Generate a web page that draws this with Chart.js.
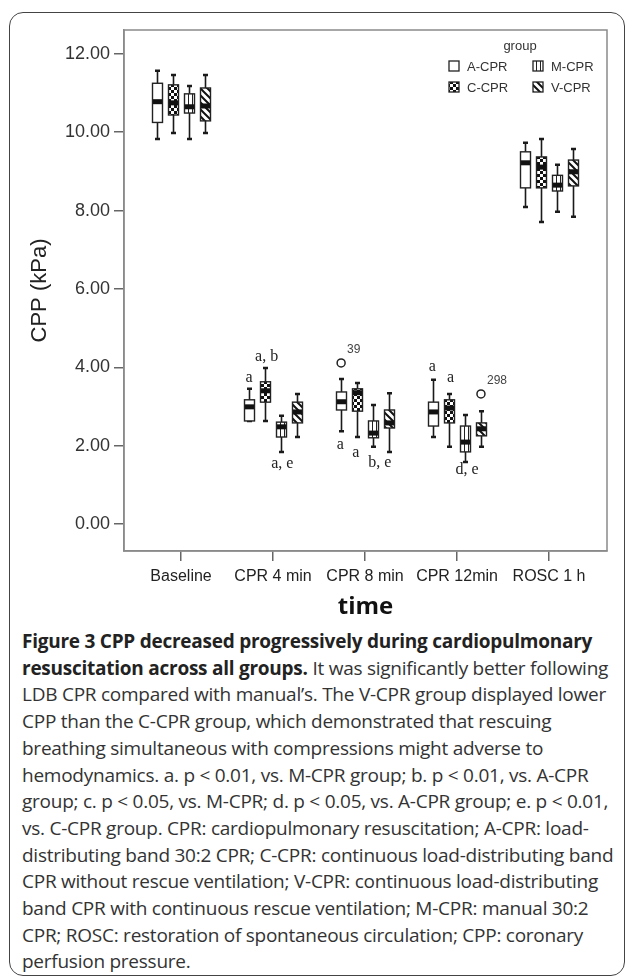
<!DOCTYPE html>
<html>
<head>
<meta charset="utf-8">
<script src="https://cdn.jsdelivr.net/npm/chart.js@4.4.1/dist/chart.umd.min.js"></script>
<style>
  body { margin: 0; background: #fff; }
  #frame { position: absolute; left: 9px; top: 12px; width: 614px; height: 962px;
           border: 1.5px solid #444; border-radius: 14px; }
  #chart { position: absolute; left: 0; top: 0; }
  #caption { position: absolute; left: 22px; top: 628px; font-family: "Open Sans", sans-serif;
             font-size: 19px; line-height: 26.7px; color: #333; letter-spacing: -0.25px; }
  #caption div { white-space: nowrap; }
  #caption b { color: #222; }
</style>
</head>
<body>
<div id="frame"></div>
<canvas id="chart" width="629" height="625"></canvas>
<div id="caption">
  <div><b>Figure 3 CPP decreased progressively during cardiopulmonary</b></div>
  <div><b>resuscitation across all groups.</b> It was significantly better following</div>
  <div>LDB CPR compared with manual’s. The V-CPR group displayed lower</div>
  <div>CPP than the C-CPR group, which demonstrated that rescuing</div>
  <div>breathing simultaneous with compressions might adverse to</div>
  <div>hemodynamics. a. p &lt; 0.01, vs. M-CPR group; b. p &lt; 0.01, vs. A-CPR</div>
  <div>group; c. p &lt; 0.05, vs. M-CPR; d. p &lt; 0.05, vs. A-CPR group; e. p &lt; 0.01,</div>
  <div>vs. C-CPR group. CPR: cardiopulmonary resuscitation; A-CPR: load-</div>
  <div>distributing band 30:2 CPR; C-CPR: continuous load-distributing band</div>
  <div>CPR without rescue ventilation; V-CPR: continuous load-distributing</div>
  <div>band CPR with continuous rescue ventilation; M-CPR: manual 30:2</div>
  <div>CPR; ROSC: restoration of spontaneous circulation; CPP: coronary</div>
  <div>perfusion pressure.</div>
</div>
<script>
// time points on the x axis
const timeLabels = ['Baseline', 'CPR 4 min', 'CPR 8 min', 'CPR 12min', 'ROSC 1 h'];
const groups = ['A-CPR', 'C-CPR', 'M-CPR', 'V-CPR'];
const yTicks = [0, 2, 4, 6, 8, 10, 12];

// box stats per time point: [lower whisker, Q1, median, Q3, upper whisker]
const aCpr = [[9.83, 10.25, 10.78, 11.25, 11.57], [2.63, 2.63, 2.99, 3.17, 3.45], [2.37, 2.91, 3.12, 3.37, 3.70], [2.22, 2.50, 2.86, 3.11, 3.68], [8.09, 8.58, 9.22, 9.50, 9.73]];
const cCpr = [[9.98, 10.44, 10.75, 11.21, 11.46], [2.63, 3.11, 3.40, 3.63, 3.98], [2.22, 2.88, 3.35, 3.45, 3.60], [1.97, 2.58, 2.96, 3.17, 3.32], [7.71, 8.58, 9.11, 9.37, 9.83]];
const mCpr = [[9.83, 10.49, 10.65, 10.98, 11.18], [1.84, 2.22, 2.48, 2.60, 2.76], [1.97, 2.20, 2.32, 2.63, 3.04], [1.58, 1.84, 2.09, 2.50, 2.78], [7.97, 8.50, 8.65, 8.90, 9.17]];
const vCpr = [[9.98, 10.29, 10.67, 11.13, 11.46], [2.22, 2.58, 2.86, 3.11, 3.32], [1.84, 2.45, 2.58, 2.91, 3.34], [1.97, 2.25, 2.43, 2.58, 2.88], [7.84, 8.63, 8.99, 9.29, 9.57]];
const groupStats = [aCpr, cCpr, mCpr, vCpr];

// outliers: time index, group index, value, case number
const outlierTime = [2, 3];
const outlierGroup = [0, 3];
const outlierValue = [4.11, 3.32];
const outlierCase = ['39', '298'];

// significance letters (x in axis units, y in kPa)
const sigText = ['a', 'a, b', 'a, e', 'a', 'a', 'b, e', 'a', 'a', 'd, e'];
const sigX = [0.74, 0.93, 1.10, 1.73, 1.90, 2.16, 2.73, 2.93, 3.11];
const sigY = [3.73, 4.26, 1.53, 2.02, 1.81, 1.55, 4.00, 3.73, 1.38];

// position of each group's box inside a time slot
const groupShift = [-0.26, -0.087, 0.087, 0.26];

function makePattern(kind) {
  const c = document.createElement('canvas');
  const p = c.getContext('2d');
  if (kind === 'checker') {
    c.width = c.height = 6;
    p.fillStyle = '#111'; p.fillRect(0, 0, 6, 6);
    p.fillStyle = '#fff'; p.fillRect(0, 0, 3, 3); p.fillRect(3, 3, 3, 3);
  } else if (kind === 'vert') {
    c.width = 4; c.height = 4;
    p.fillStyle = '#fff'; p.fillRect(0, 0, 4, 4);
    p.fillStyle = '#222'; p.fillRect(0, 0, 1, 4);
  } else if (kind === 'diag') {
    c.width = c.height = 7;
    p.fillStyle = '#fff'; p.fillRect(0, 0, 7, 7);
    p.strokeStyle = '#111'; p.lineWidth = 2;
    p.beginPath();
    p.moveTo(-1, -1); p.lineTo(8, 8);
    p.moveTo(-1, 6); p.lineTo(1, 8);
    p.moveTo(6, -1); p.lineTo(8, 1);
    p.stroke();
  } else {
    c.width = c.height = 2;
    p.fillStyle = '#fff'; p.fillRect(0, 0, 2, 2);
  }
  return document.getElementById('chart').getContext('2d').createPattern(c, 'repeat');
}
const fills = [makePattern('plain'), makePattern('checker'), makePattern('vert'), makePattern('diag')];

const boxPlugin = {
  id: 'boxes',
  beforeDatasetsDraw(chart) {
    const { ctx, scales: { x, y } } = chart;
    const halfW = 5;
    ctx.save();
    groupStats.forEach((stats, g) => {
      stats.forEach((s, t) => {
        const cx = Math.round(x.getPixelForValue(t + groupShift[g])) + 0.5;
        const [lo, q1, med, q3, hi] = s.map(v => y.getPixelForValue(v));
        ctx.strokeStyle = '#1a1a1a';
        ctx.lineWidth = 1.6;
        ctx.beginPath();
        ctx.moveTo(cx, hi); ctx.lineTo(cx, q3);
        ctx.moveTo(cx, q1); ctx.lineTo(cx, lo);
        ctx.stroke();
        // caps
        ctx.lineWidth = 2.5;
        ctx.beginPath();
        ctx.moveTo(cx - 2.5, hi); ctx.lineTo(cx + 2.5, hi);
        ctx.moveTo(cx - 2.5, lo); ctx.lineTo(cx + 2.5, lo);
        ctx.stroke();
        // box
        ctx.fillStyle = fills[g];
        ctx.fillRect(cx - halfW, q3, halfW * 2, q1 - q3);
        ctx.fillStyle = '#111';
        ctx.fillRect(cx - halfW, med - 2.5, halfW * 2, 5);
        ctx.lineWidth = 1.4;
        ctx.strokeStyle = '#222';
        ctx.strokeRect(cx - halfW, q3, halfW * 2, q1 - q3);
      });
    });
    ctx.restore();
  },
  afterDraw(chart) {
    const { ctx, chartArea: a, scales: { x, y } } = chart;
    ctx.save();
    // plot frame
    ctx.strokeStyle = '#8a8a8a';
    ctx.lineWidth = 1.5;
    ctx.strokeRect(a.left, a.top, a.right - a.left, a.bottom - a.top);

    // significance letters
    ctx.fillStyle = '#222';
    ctx.font = '16px "Liberation Serif"';
    ctx.textAlign = 'center';
    ctx.textBaseline = 'middle';
    sigText.forEach((txt, i) => {
      ctx.fillText(txt, x.getPixelForValue(sigX[i]), y.getPixelForValue(sigY[i]));
    });

    // outlier case numbers
    ctx.font = '12px "Liberation Sans"';
    ctx.fillStyle = '#444';
    ctx.textAlign = 'left';
    outlierCase.forEach((txt, i) => {
      const px = x.getPixelForValue(outlierTime[i] + groupShift[outlierGroup[i]]);
      const py = y.getPixelForValue(outlierValue[i]);
      ctx.fillText(txt, px + 6, py - 13);
    });

    // legend
    ctx.fillStyle = '#333';
    ctx.font = '13px "Liberation Sans"';
    ctx.textAlign = 'center';
    ctx.fillText('group', 520, 46);
    const legX = [449, 533];
    const legY = [66, 87];
    groups.forEach((name, g) => {
      const col = g === 0 || g === 1 ? 0 : 1;
      const row = g === 0 || g === 2 ? 0 : 1;
      const lx = legX[col], ly = legY[row];
      ctx.fillStyle = fills[g];
      ctx.fillRect(lx, ly - 5, 10, 10);
      ctx.strokeStyle = '#222';
      ctx.lineWidth = 1.3;
      ctx.strokeRect(lx, ly - 5, 10, 10);
      ctx.fillStyle = '#333';
      ctx.textAlign = 'left';
      ctx.fillText(name, lx + 18, ly + 1);
    });
    ctx.restore();
  }
};

const outlierPoints = outlierTime.map((t, i) => ({ x: t + groupShift[outlierGroup[i]], y: outlierValue[i] }));

new Chart(document.getElementById('chart'), {
  type: 'scatter',
  data: {
    datasets: [{
      label: 'outliers',
      data: outlierPoints,
      pointRadius: 4,
      pointBorderWidth: 1.5,
      borderColor: '#222',
      backgroundColor: '#fff'
    }]
  },
  options: {
    responsive: false,
    animation: false,
    layout: { padding: { left: 0, right: 22, top: 30, bottom: 0 } },
    plugins: { legend: { display: false }, tooltip: { enabled: false } },
    scales: {
      x: {
        type: 'linear',
        min: -0.62,
        max: 4.63,
        afterBuildTicks: axis => { axis.ticks = timeLabels.map((_, i) => ({ value: i })); },
        afterFit: axis => { axis.height = 74; },
        ticks: {
          callback: v => timeLabels[v],
          color: '#222',
          font: { family: '"Liberation Sans"', size: 16 },
          padding: 6,
          maxRotation: 0
        },
        grid: { drawOnChartArea: false, drawTicks: true, tickLength: 10, color: '#666', lineWidth: 1.5 },
        border: { display: true, color: '#8a8a8a', width: 1.5 },
        title: {
          display: true,
          text: 'time',
          color: '#111',
          font: { family: '"Open Sans"', size: 24, weight: 'bold' },
          padding: { top: 0, bottom: 3 }
        }
      },
      y: {
        min: -0.69,
        max: 12.61,
        afterBuildTicks: axis => { axis.ticks = yTicks.map(v => ({ value: v })); },
        afterFit: axis => { axis.width = 124; },
        ticks: {
          callback: v => v.toFixed(2),
          color: '#333',
          font: { family: '"Liberation Sans"', size: 18 },
          padding: 4
        },
        grid: { drawOnChartArea: false, drawTicks: true, tickLength: 10, color: '#666', lineWidth: 1.5 },
        border: { display: true, color: '#8a8a8a', width: 1.5 },
        title: {
          display: true,
          text: 'CPP (kPa)',
          color: '#222',
          font: { family: '"Liberation Sans"', size: 22 },
          padding: { top: 27, bottom: 0 }
        }
      }
    }
  },
  plugins: [boxPlugin]
});
</script>
</body>
</html>
